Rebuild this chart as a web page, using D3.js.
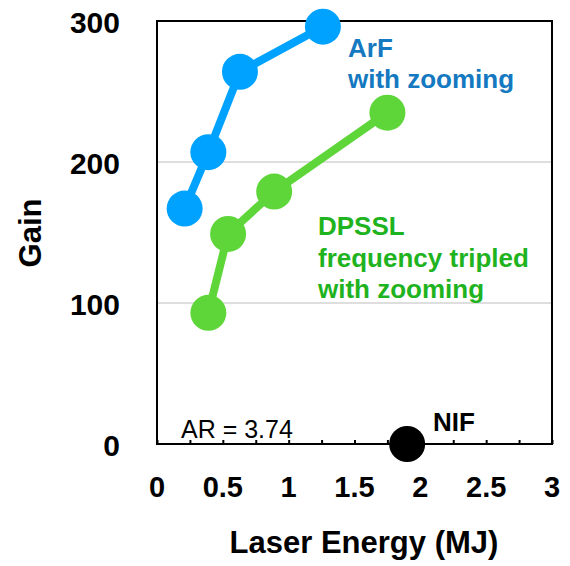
<!DOCTYPE html>
<html>
<head>
<meta charset="utf-8">
<script src="https://cdn.jsdelivr.net/npm/d3@7"></script>
<style>
  body { margin: 0; background: #fff; }
  text { font-family: "Liberation Sans", Arial, Helvetica, sans-serif; }
</style>
</head>
<body>
<script>
// ArF with zooming
let arfEnergy = [0.21, 0.39, 0.63, 1.26];
let arfGain = [167, 207, 264, 296];

// DPSSL frequency tripled with zooming
let dpsslEnergy = [0.39, 0.54, 0.89, 1.75];
let dpsslGain = [93, 149, 179, 235];

// NIF point
let nifEnergy = [1.9];
let nifGain = [0];

let xTickLabels = [0, 0.5, 1, 1.5, 2, 2.5, 3];
let yTickLabels = [0, 100, 200, 300];

let margin = {left: 157, top: 21, right: 18, bottom: 122};
let W = 570, H = 566;
let w = W - margin.left - margin.right; // 395
let h = H - margin.top - margin.bottom; // 423

let x = d3.scaleLinear().domain([0, 3]).range([0, w]);
let y = d3.scaleLinear().domain([0, 300]).range([h, 0]);

let svg = d3.select('body').append('svg')
  .attr('width', W)
  .attr('height', H);

let g = svg.append('g')
  .attr('transform', 'translate(' + margin.left + ',' + margin.top + ')');

// gridlines at 100 and 200
g.selectAll('line.grid')
  .data([100, 200])
  .enter().append('line')
  .attr('class', 'grid')
  .attr('x1', 0).attr('x2', w)
  .attr('y1', d => y(d)).attr('y2', d => y(d))
  .attr('stroke', '#bdbdbd')
  .attr('stroke-width', 1);

// minor ticks pointing inward, every 0.25
let xAxis = d3.axisTop(x)
  .tickValues(d3.range(0, 3.01, 0.25))
  .tickSize(4)
  .tickFormat('');
g.append('g')
  .attr('transform', 'translate(0,' + h + ')')
  .call(xAxis)
  .call(s => s.select('.domain').remove())
  .selectAll('line').attr('stroke', '#000').attr('stroke-width', 2);

// box
g.append('rect')
  .attr('x', 0).attr('y', 0)
  .attr('width', w).attr('height', h)
  .attr('fill', 'none')
  .attr('stroke', '#000')
  .attr('stroke-width', 2);

// x tick labels
g.selectAll('text.xt')
  .data(xTickLabels)
  .enter().append('text')
  .attr('class', 'xt')
  .attr('x', d => x(d))
  .attr('y', h + 53)
  .attr('text-anchor', 'middle')
  .attr('font-size', 29)
  .attr('font-weight', 'bold')
  .text(d => d);

// y tick labels
g.selectAll('text.yt')
  .data(yTickLabels)
  .enter().append('text')
  .attr('class', 'yt')
  .attr('x', -37)
  .attr('y', d => y(d) + 12)
  .attr('text-anchor', 'end')
  .attr('font-size', 30)
  .attr('font-weight', 'bold')
  .text(d => d);

// axis titles
svg.append('text')
  .attr('x', 364).attr('y', 553)
  .attr('text-anchor', 'middle')
  .attr('font-size', 31)
  .attr('font-weight', 'bold')
  .text('Laser Energy (MJ)');

svg.append('text')
  .attr('transform', 'translate(41,233) rotate(-90)')
  .attr('text-anchor', 'middle')
  .attr('font-size', 31)
  .attr('font-weight', 'bold')
  .text('Gain');

let line = d3.line().x(d => x(d[0])).y(d => y(d[1]));

function series(ex, gn, color) {
  let pts = ex.map((e, i) => [e, gn[i]]);
  g.append('path')
    .datum(pts)
    .attr('d', line)
    .attr('fill', 'none')
    .attr('stroke', color)
    .attr('stroke-width', 8);
  g.selectAll(null)
    .data(pts)
    .enter().append('circle')
    .attr('cx', d => x(d[0]))
    .attr('cy', d => y(d[1]))
    .attr('r', 18)
    .attr('fill', color);
}

series(dpsslEnergy, dpsslGain, '#5ed63a');
series(arfEnergy, arfGain, '#00a2ff');

// NIF
g.selectAll('circle.nif')
  .data(nifEnergy.map((e, i) => [e, nifGain[i]]))
  .enter().append('circle')
  .attr('class', 'nif')
  .attr('cx', d => x(d[0]))
  .attr('cy', d => y(d[1]))
  .attr('r', 18)
  .attr('fill', '#000');

svg.append('text')
  .attr('x', 433).attr('y', 431)
  .attr('font-size', 26)
  .attr('font-weight', 'bold')
  .text('NIF');

svg.append('text')
  .attr('x', 181).attr('y', 438)
  .attr('font-size', 25)
  .text('AR = 3.74');

// series labels
let arfText = svg.append('text')
  .attr('font-size', 26)
  .attr('font-weight', 'bold')
  .attr('fill', '#1479c0');
arfText.append('tspan').attr('x', 348).attr('y', 57).text('ArF');
arfText.append('tspan').attr('x', 348).attr('y', 88).text('with zooming');

let dpText = svg.append('text')
  .attr('font-size', 26)
  .attr('font-weight', 'bold')
  .attr('fill', '#1fb31f');
dpText.append('tspan').attr('x', 318).attr('y', 235).text('DPSSL');
dpText.append('tspan').attr('x', 318).attr('y', 267).text('frequency tripled');
dpText.append('tspan').attr('x', 318).attr('y', 298).text('with zooming');
</script>
</body>
</html>
